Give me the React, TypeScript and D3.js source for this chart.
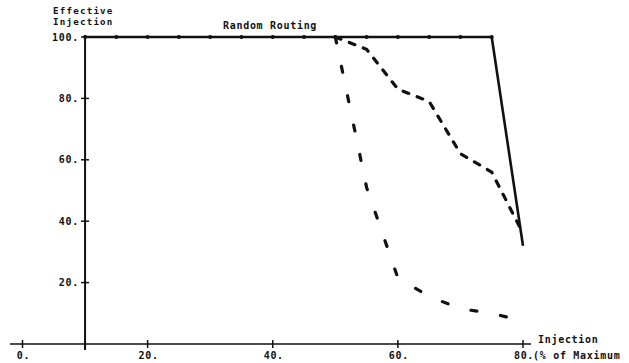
import React from "react";
import * as d3 from "d3";

const xTicks = [0, 20, 40, 60, 80];
const yTicks = [20, 40, 60, 80, 100];

const solidX = [10, 15, 20, 25, 30, 35, 40, 45, 50, 55, 60, 65, 70, 75, 80];
const solidY = [100, 100, 100, 100, 100, 100, 100, 100, 100, 100, 100, 100, 100, 100, 32];

const dashedX = [50, 55, 60, 65, 70, 75, 80];
const dashedY = [100, 96, 83, 79, 62, 56, 36];

const dashDotX = [50, 55, 60, 65, 70, 75, 80];
const dashDotY = [100, 51, 21.5, 15.5, 11.5, 10, 7.5];

const W = 629;
const H = 363;
const FONT = "'DejaVu Sans Mono', monospace";

export default function App() {
  const x = d3.scaleLinear().domain([0, 80]).range([22.5, 523]);
  const y = d3.scaleLinear().domain([0, 100]).range([344, 37]);
  const line = d3
    .line<[number, number]>()
    .x((d) => x(d[0]))
    .y((d) => y(d[1]));

  const solid = solidX.map((v, i) => [v, solidY[i]] as [number, number]);
  const dashed = dashedX.map((v, i) => [v, dashedY[i]] as [number, number]);
  const dashDot = dashDotX.map((v, i) => [v, dashDotY[i]] as [number, number]);

  const textStyle = {
    fontFamily: FONT,
    fontWeight: 700,
    fontSize: 10,
    letterSpacing: 0.7,
    fill: "#111",
  } as React.CSSProperties;
  const smallStyle = { ...textStyle, fontSize: 9.2, letterSpacing: 1.2 } as React.CSSProperties;

  return (
    <svg
      width={W}
      height={H}
      style={{ position: "absolute", left: 0, top: 0, background: "#fff" }}
    >
      <rect width={W} height={H} fill="#fff" />
      {/* axes */}
      <line x1={10} x2={531} y1={y(0)} y2={y(0)} stroke="#111" strokeWidth={1.5} />
      <line x1={x(10)} x2={x(10)} y1={y(100) - 2} y2={y(0) + 6} stroke="#111" strokeWidth={2} />
      {xTicks.concat([10]).map((t) => (
        <line key={"xt" + t} x1={x(t)} x2={x(t)} y1={y(0) - 4} y2={y(0) + 4} stroke="#111" strokeWidth={1.5} />
      ))}
      {yTicks.map((t) => (
        <line key={"yt" + t} x1={x(10) - 4} x2={x(10) + 4} y1={y(t)} y2={y(t)} stroke="#111" strokeWidth={1.5} />
      ))}
      {xTicks.map((t) => (
        <text key={"xl" + t} x={x(t) + 1} y={359} textAnchor="middle" style={textStyle}>
          {t + "."}
        </text>
      ))}
      {yTicks.map((t) => (
        <text key={"yl" + t} x={79} y={y(t) + 3.5} textAnchor="end" style={textStyle}>
          {t + "."}
        </text>
      ))}
      <text x={53} y={13.5} style={smallStyle}>Effective</text>
      <text x={53} y={24.5} style={smallStyle}>Injection</text>
      <text x={223} y={29} style={textStyle}>Random Routing</text>
      <text x={538} y={343} style={textStyle}>Injection</text>
      <text x={533} y={359} style={textStyle}>(% of Maximum</text>

      {/* series */}
      <path d={line(solid) || ""} fill="none" stroke="#111" strokeWidth={2.6} strokeLinejoin="miter" />
      {solid.slice(0, -1).map((d, i) => (
        <circle key={"sm" + i} cx={x(d[0])} cy={y(d[1])} r={2} fill="#111" />
      ))}
      <path
        d={line(dashed) || ""}
        fill="none"
        stroke="#111"
        strokeWidth={3.2}
        strokeDasharray="6,9"
        strokeLinecap="round"
      />
      <path
        d={line(dashDot) || ""}
        fill="none"
        stroke="#111"
        strokeWidth={3.2}
        strokeDasharray="6,24"
        strokeLinecap="round"
      />
    </svg>
  );
}
